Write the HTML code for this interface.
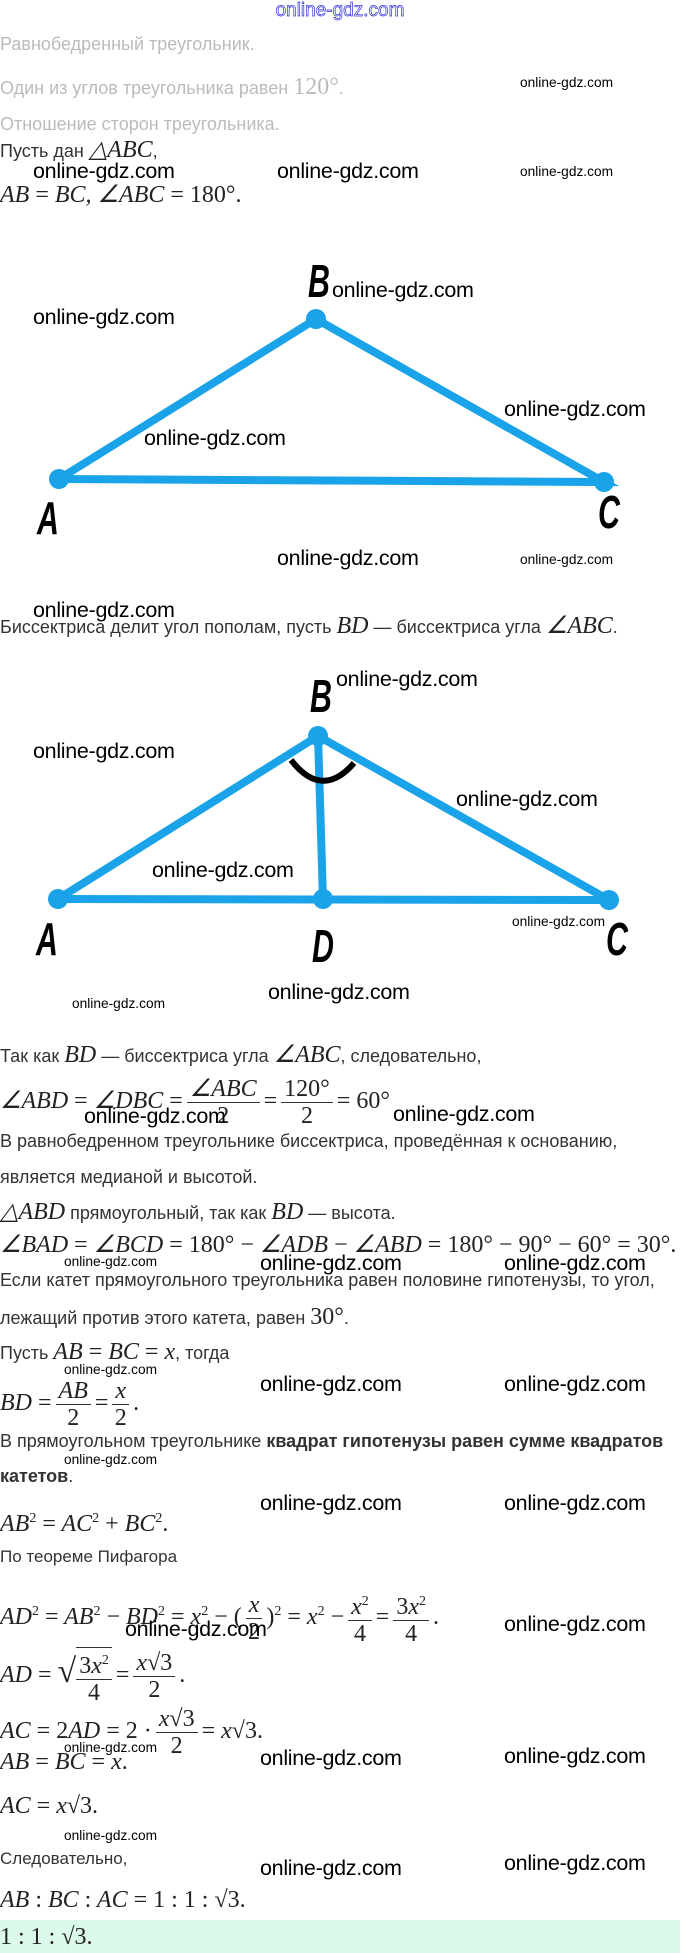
<!DOCTYPE html>
<html><head><meta charset="utf-8">
<style>
html,body{margin:0;padding:0;background:#fff;}
body{width:680px;height:1953px;position:relative;overflow:hidden;font-family:"Liberation Sans",sans-serif;}
.t{position:absolute;left:0;font-size:18px;color:#333;white-space:nowrap;line-height:20px;}
.g{color:#bbb;font-size:18px;}
.m{font-family:"Liberation Serif",serif;font-style:italic;font-size:24px;color:#222;}
.n{font-style:normal;}
.w{position:absolute;font-size:21.5px;color:#000;white-space:nowrap;line-height:22px;letter-spacing:-0.3px;}
.s{position:absolute;font-size:14px;color:#000;white-space:nowrap;line-height:16px;transform:scaleX(0.98);transform-origin:left center;}
.L{position:absolute;font-weight:bold;font-style:italic;font-size:46px;line-height:46px;color:#000;transform:scaleX(0.66);transform-origin:left center;}
.fr{display:inline-flex;flex-direction:column;align-items:center;vertical-align:middle;margin:0 4px;}
.fr>span:first-child{border-bottom:1.5px solid #333;padding:0 3px;line-height:26px;}
.fr>span:last-child{line-height:26px;}
sup{font-size:14px;}
</style></head><body>

<div style="position:absolute;left:0;width:680px;top:0;text-align:center;font-size:19px;color:#fff;-webkit-text-stroke:0.7px #3030e0;line-height:22px;">online-gdz.com</div>

<div class="t g" style="top:34px">Равнобедренный треугольник.</div>
<div class="t g" style="top:77px">Один из углов треугольника равен <span class="m n" style="color:#bbb">120°</span>.</div>
<div class="s" style="left:520px;top:74px">online-gdz.com</div>
<div class="t g" style="top:114px">Отношение сторон треугольника.</div>
<div class="t" style="top:140px">Пусть дан <span class="m">△ABC</span>,</div>
<div class="w" style="left:33px;top:160px">online-gdz.com</div>
<div class="w" style="left:277px;top:160px">online-gdz.com</div>
<div class="s" style="left:520px;top:163px">online-gdz.com</div>
<div class="t" style="top:185px"><span class="m">AB <span class="n">=</span> BC, ∠ABC <span class="n">= 180°.</span></span></div>

<svg style="position:absolute;left:0;top:0" width="680" height="1953">
 <g stroke="#1aa3e8" stroke-width="8" stroke-linecap="round" fill="none">
  <polyline points="59,479 316,319 604,482 59,479"/>
  <line x1="58" y1="899" x2="318" y2="736"/>
  <line x1="318" y1="736" x2="609" y2="900"/>
  <line x1="58" y1="899" x2="609" y2="900"/>
  <line x1="318" y1="736" x2="323" y2="899"/>
 </g>
 <g fill="#1aa3e8">
  <circle cx="59" cy="479" r="10"/><circle cx="316" cy="319" r="10"/><circle cx="604" cy="482" r="10"/>
  <circle cx="58" cy="899" r="10"/><circle cx="318" cy="736" r="10"/><circle cx="609" cy="900" r="10"/><circle cx="323" cy="899" r="10"/>
 </g>
 <path d="M291 760 Q 322 800 354 763" stroke="#000" stroke-width="6" fill="none"/>
</svg>

<div class="L" style="left:308px;top:258px">B</div>
<div class="w" style="left:332px;top:279px">online-gdz.com</div>
<div class="w" style="left:33px;top:306px">online-gdz.com</div>
<div class="w" style="left:504px;top:398px">online-gdz.com</div>
<div class="w" style="left:144px;top:427px">online-gdz.com</div>
<div class="L" style="left:37px;top:495px">A</div>
<div class="L" style="left:598px;top:489px">C</div>
<div class="w" style="left:277px;top:547px">online-gdz.com</div>
<div class="s" style="left:520px;top:551px">online-gdz.com</div>

<div class="w" style="left:33px;top:599px">online-gdz.com</div>
<div class="t" style="top:616px">Биссектриса делит угол пополам, пусть <span class="m">BD</span> — биссектриса угла <span class="m">∠ABC</span>.</div>

<div class="L" style="left:310px;top:673px">B</div>
<div class="w" style="left:336px;top:668px">online-gdz.com</div>
<div class="w" style="left:33px;top:740px">online-gdz.com</div>
<div class="w" style="left:456px;top:788px">online-gdz.com</div>
<div class="w" style="left:152px;top:859px">online-gdz.com</div>
<div class="s" style="left:512px;top:913px">online-gdz.com</div>
<div class="L" style="left:36px;top:916px">A</div>
<div class="L" style="left:312px;top:923px">D</div>
<div class="L" style="left:606px;top:916px">C</div>
<div class="w" style="left:268px;top:981px">online-gdz.com</div>
<div class="s" style="left:72px;top:995px">online-gdz.com</div>

<div class="t" style="top:1045px">Так как <span class="m">BD</span> — биссектриса угла <span class="m">∠ABC</span>, следовательно,</div>
<div class="t" style="top:1074px;line-height:54px;"><span class="m">∠ABD <span class="n">=</span> ∠DBC <span class="n">=</span><span class="fr"><span>∠ABC</span><span class="n">2</span></span><span class="n">=</span><span class="fr n"><span>120°</span><span>2</span></span><span class="n">= 60°</span></span></div>
<div class="w" style="left:84px;top:1105px">online-gdz.com</div>
<div class="w" style="left:393px;top:1103px">online-gdz.com</div>
<div class="t" style="top:1131px">В равнобедренном треугольнике биссектриса, проведённая к основанию,</div>
<div class="t" style="top:1167px">является медианой и высотой.</div>
<div class="t" style="top:1202px"><span class="m">△ABD</span> прямоугольный, так как <span class="m">BD</span> — высота.</div>
<div class="t" style="top:1235px"><span class="m">∠BAD <span class="n">=</span> ∠BCD <span class="n">= 180° −</span> ∠ADB <span class="n">−</span> ∠ABD <span class="n">= 180° − 90° − 60° = 30°.</span></span></div>
<div class="s" style="left:64px;top:1253px">online-gdz.com</div>
<div class="w" style="left:260px;top:1252px">online-gdz.com</div>
<div class="w" style="left:504px;top:1252px">online-gdz.com</div>
<div class="t" style="top:1270px">Если катет прямоугольного треугольника равен половине гипотенузы, то угол,</div>
<div class="t" style="top:1307px">лежащий против этого катета, равен <span class="m n">30°</span>.</div>
<div class="t" style="top:1342px">Пусть <span class="m">AB <span class="n">=</span> BC <span class="n">=</span> x</span>, тогда</div>
<div class="s" style="left:64px;top:1361px">online-gdz.com</div>
<div class="w" style="left:260px;top:1373px">online-gdz.com</div>
<div class="w" style="left:504px;top:1373px">online-gdz.com</div>
<div class="t" style="top:1376px;line-height:54px;"><span class="m">BD <span class="n">=</span><span class="fr"><span>AB</span><span class="n">2</span></span><span class="n">=</span><span class="fr"><span>x</span><span class="n">2</span></span><span class="n">.</span></span></div>
<div class="t" style="top:1431px">В прямоугольном треугольнике <b>квадрат гипотенузы равен сумме квадратов</b></div>
<div class="s" style="left:64px;top:1451px">online-gdz.com</div>
<div class="t" style="top:1466px"><b>катетов</b>.</div>
<div class="w" style="left:260px;top:1492px">online-gdz.com</div>
<div class="w" style="left:504px;top:1492px">online-gdz.com</div>
<div class="t" style="top:1509px"><span class="m">AB<sup class="n">2</sup> <span class="n">=</span> AC<sup class="n">2</sup> <span class="n">+</span> BC<sup class="n">2</sup><span class="n">.</span></span></div>
<div class="t" style="top:1547px;font-size:17px">По теореме Пифагора</div>
<div class="t" style="top:1585px;line-height:54px;"><span class="m">AD<sup class="n">2</sup> <span class="n">=</span> AB<sup class="n">2</sup> <span class="n">−</span> BD<sup class="n">2</sup> <span class="n">=</span> x<sup class="n">2</sup> <span class="n">− (</span><span class="fr"><span>x</span><span class="n">2</span></span><span class="n">)<sup>2</sup> =</span> x<sup class="n">2</sup> <span class="n">−</span><span class="fr"><span>x<sup class="n">2</sup></span><span class="n">4</span></span><span class="n">=</span><span class="fr"><span><span class="n">3</span>x<sup class="n">2</sup></span><span class="n">4</span></span><span class="n">.</span></span></div>
<div class="w" style="left:125px;top:1618px">online-gdz.com</div>
<div class="w" style="left:504px;top:1613px">online-gdz.com</div>
<div class="t" style="top:1645px;line-height:54px;"><span class="m">AD <span class="n">=</span> <span class="n" style="font-size:34px">√</span><span class="fr" style="border-top:1.5px solid #333;margin-left:0"><span><span class="n">3</span>x<sup class="n">2</sup></span><span class="n">4</span></span><span class="n">=</span><span class="fr"><span>x<span class="n">√3</span></span><span class="n">2</span></span><span class="n">.</span></span></div>
<div class="t" style="top:1704px;line-height:54px;"><span class="m">AC <span class="n">= 2</span>AD <span class="n">= 2 ·</span><span class="fr"><span>x<span class="n">√3</span></span><span class="n">2</span></span><span class="n">=</span> x<span class="n">√3.</span></span></div>
<div class="s" style="left:64px;top:1739px">online-gdz.com</div>
<div class="w" style="left:260px;top:1747px">online-gdz.com</div>
<div class="w" style="left:504px;top:1745px">online-gdz.com</div>
<div class="t" style="top:1752px"><span class="m">AB <span class="n">=</span> BC <span class="n">=</span> x<span class="n">.</span></span></div>
<div class="t" style="top:1796px"><span class="m">AC <span class="n">=</span> x<span class="n">√3.</span></span></div>
<div class="s" style="left:64px;top:1827px">online-gdz.com</div>
<div class="t" style="top:1849px;font-size:17px">Следовательно,</div>
<div class="w" style="left:260px;top:1857px">online-gdz.com</div>
<div class="w" style="left:504px;top:1852px">online-gdz.com</div>
<div class="t" style="top:1890px"><span class="m">AB <span class="n">:</span> BC <span class="n">:</span> AC <span class="n">= 1 : 1 : √3.</span></span></div>
<div style="position:absolute;left:0;top:1920px;width:680px;height:33px;background:#dcfaec;"></div>
<div class="t" style="top:1927px"><span class="m n">1 : 1 : √3.</span></div>
</body></html>
